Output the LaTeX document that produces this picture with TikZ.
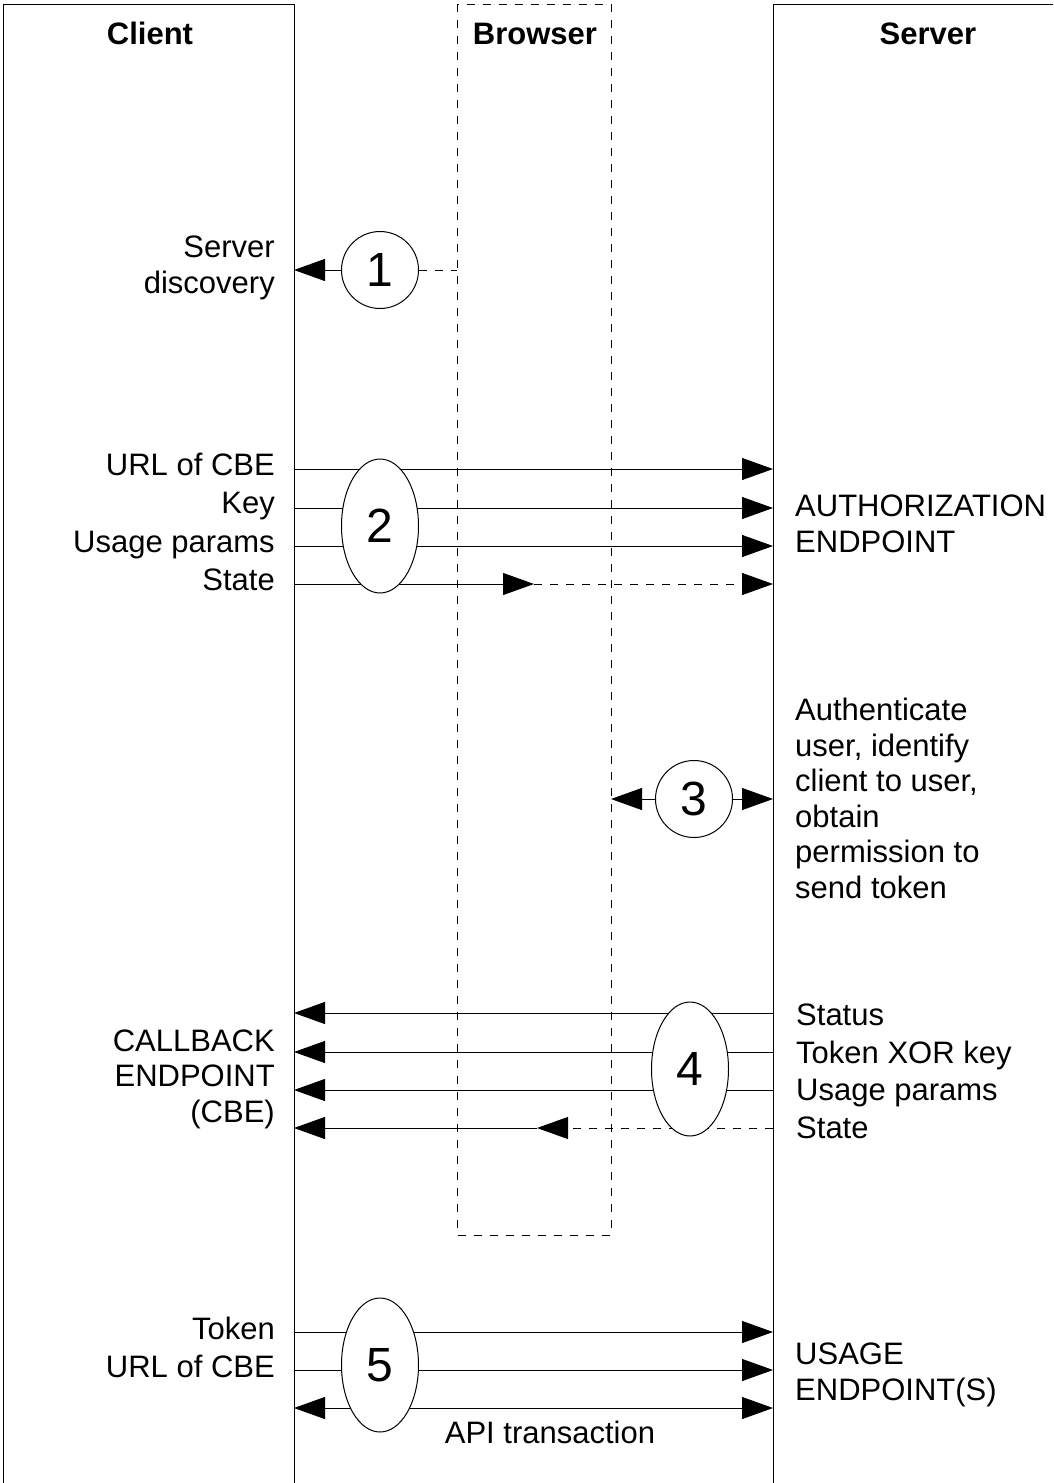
\documentclass[tikz,border=0pt]{standalone}
\usepackage{fontspec}
\setmainfont{Liberation Sans}
\usetikzlibrary{arrows.meta,shapes.geometric}
\tikzset{
  lbl/.style={font=\fontsize{31}{35.5}\selectfont, inner sep=0pt},
  hdr/.style={font=\bfseries\fontsize{31}{35.5}\selectfont, inner sep=0pt},
  oval/.style={ellipse, draw, fill=white, line width=1pt, minimum width=77pt, minimum height=134pt, inner sep=0pt, font=\fontsize{48}{50}\selectfont},
  ring/.style={circle, draw, fill=white, line width=1pt, minimum size=77pt, inner sep=0pt, font=\fontsize{48}{50}\selectfont},
  life/.style={line width=1pt},
  msg/.style={line width=1pt, -{Triangle[length=31pt,width=22pt]}},
  dmsg/.style={msg, dash pattern=on 8pt off 8pt},
  dline/.style={line width=1pt, dash pattern=on 8pt off 8pt}
}
\begin{document}
\begin{tikzpicture}[x=1pt,y=-1pt]
\useasboundingbox[fill=white] (0,0) rectangle (1053,1483);
% lifelines
\draw[life] (3,1483) -- (3,4) -- (294,4) -- (294,1483);
\draw[life] (1053,4) -- (773,4) -- (773,1483);
\draw[dline] (457,4) rectangle (611,1235);
\node[hdr, anchor=base] (hc) at (150,44) {Client};
\node[hdr, anchor=base] (hb) at (535,44) {Browser};
\node[hdr, anchor=base] (hs) at (928,44) {Server};

% step 1
\coordinate (c1) at (294,270);
\coordinate (b1) at (457,270);
\node[ring] (n1) at (380,270) {1};
\draw[msg] (n1.west) -- (c1);
\draw[dline] (n1.east) -- (b1);
\node[lbl, anchor=base east, align=right] (l1) at (275,293) {Server\\discovery};

% step 2
\foreach \n/\y in {a/469,b/508,c/546,d/584}{
  \coordinate (c2\n) at (294,\y);
  \coordinate (s2\n) at (773,\y);
}
\coordinate (m2) at (534,584);
\draw[msg] (c2a) -- (s2a);
\draw[msg] (c2b) -- (s2b);
\draw[msg] (c2c) -- (s2c);
\draw[msg] (c2d) -- (m2);
\draw[dmsg] (m2) -- (s2d);
\node[oval] (n2) at (380,526) {2};
\node[lbl, anchor=base east] (l2a) at (275,475) {URL of CBE};
\node[lbl, anchor=base east] (l2b) at (275,513) {Key};
\node[lbl, anchor=base east] (l2c) at (275,552) {Usage params};
\node[lbl, anchor=base east] (l2d) at (275,590) {State};
\node[lbl, anchor=base west, align=left] (l2e) at (795,552) {AUTHORIZATION\\ENDPOINT};

% step 3
\coordinate (b3) at (611,799);
\coordinate (s3) at (773,799);
\node[ring] (n3) at (694,799) {3};
\draw[msg] (n3.west) -- (b3);
\draw[msg] (n3.east) -- (s3);
\node[lbl, anchor=base west, align=left] (l3) at (795,898) {Authenticate\\user, identify\\client to user,\\obtain\\permission to\\send token};

% step 4
\foreach \n/\y in {a/1013,b/1052,c/1090,d/1128}{
  \coordinate (c4\n) at (294,\y);
  \coordinate (s4\n) at (773,\y);
}
\coordinate (m4) at (537,1128);
\draw[msg] (s4a) -- (c4a);
\draw[msg] (s4b) -- (c4b);
\draw[msg] (s4c) -- (c4c);
\draw[dmsg] (s4d) -- (m4);
\draw[msg] (m4) -- (c4d);
\node[oval] (n4) at (690,1069) {4};
\node[lbl, anchor=base east, align=right] (l4) at (275,1122) {CALLBACK\\ENDPOINT\\(CBE)};
\node[lbl, anchor=base west] (l4a) at (796,1025) {Status};
\node[lbl, anchor=base west] (l4b) at (796,1063) {Token XOR key};
\node[lbl, anchor=base west] (l4c) at (796,1100) {Usage params};
\node[lbl, anchor=base west] (l4d) at (796,1138) {State};

% step 5
\foreach \n/\y in {a/1332,b/1370,c/1408}{
  \coordinate (c5\n) at (294,\y);
  \coordinate (s5\n) at (773,\y);
}
\draw[msg] (c5a) -- (s5a);
\draw[msg] (c5b) -- (s5b);
\draw[msg, {Triangle[length=31pt,width=22pt]}-{Triangle[length=31pt,width=22pt]}] (c5c) -- (s5c);
\node[oval] (n5) at (380,1365) {5};
\node[lbl, anchor=base east] (l5a) at (275,1339) {Token};
\node[lbl, anchor=base east] (l5b) at (275,1377) {URL of CBE};
\node[lbl, anchor=base west, align=left] (l5c) at (795,1400) {USAGE\\ENDPOINT(S)};
\node[lbl, anchor=base] (l5d) at (550,1443) {API transaction};
\end{tikzpicture}
\end{document}
